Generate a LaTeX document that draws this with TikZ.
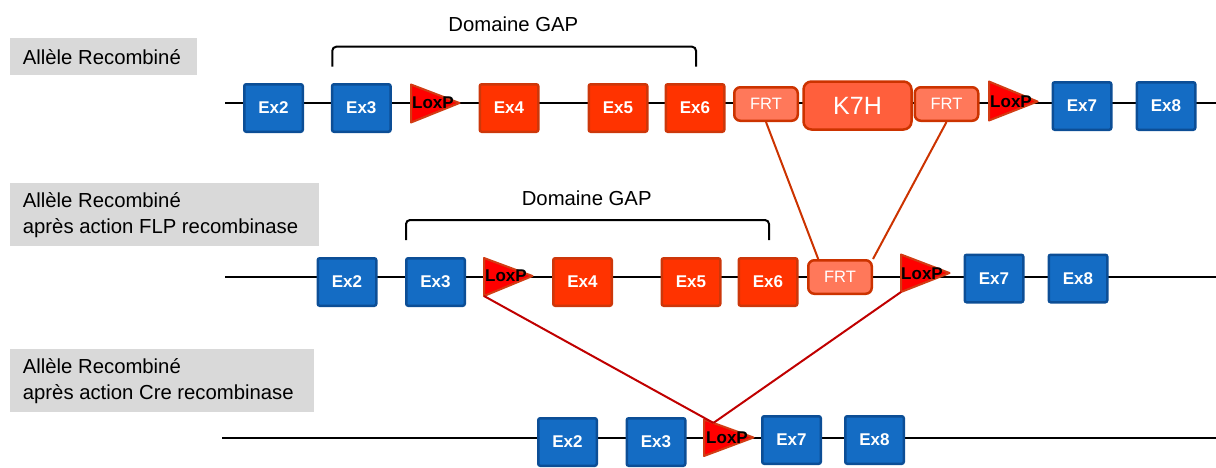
\documentclass[tikz,border=0pt]{standalone}
\usepackage{fontspec}
\setmainfont{Liberation Sans}
\usetikzlibrary{calc}
\definecolor{exblue}{RGB}{20,108,196}
\definecolor{exblueb}{RGB}{12,78,150}
\definecolor{exred}{RGB}{255,51,0}
\definecolor{exredb}{RGB}{205,55,10}
\definecolor{frtfill}{RGB}{255,120,90}
\definecolor{orb}{RGB}{204,51,0}
\definecolor{kfill}{RGB}{255,95,60}
\definecolor{loxfill}{RGB}{255,0,0}
\definecolor{loxb}{RGB}{210,60,20}
\definecolor{lgray}{RGB}{217,217,217}
\definecolor{frtline}{RGB}{204,51,0}
\definecolor{loxline}{RGB}{192,0,0}
\tikzset{
  exonbase/.style={rectangle, rounded corners=2pt, line width=2.5pt, minimum width=58.5pt, minimum height=47.5pt, inner sep=0pt, text=white, font=\fontsize{17}{20}\selectfont\bfseries},
  bexon/.style={exonbase, fill=exblue, draw=exblueb},
  rexon/.style={exonbase, fill=exred, draw=exredb},
  frtbox/.style={rectangle, rounded corners=6pt, line width=2.5pt, minimum width=63.5pt, minimum height=33.5pt, inner sep=0pt, fill=frtfill, draw=orb, text=white, font=\fontsize{16.5}{19}\selectfont},
  kbox/.style={rectangle, rounded corners=8pt, line width=2.5pt, minimum width=108pt, minimum height=48pt, inner sep=0pt, fill=kfill, draw=orb, text=white, font=\fontsize{25}{28}\selectfont},
  loxtri/.style={fill=loxfill, draw=loxb, line width=2pt, line join=round},
  loxtext/.style={inner sep=0pt, text=black, font=\fontsize{17}{19}\selectfont\bfseries},
  dna/.style={line width=2.5pt, black},
  graybox/.style={rectangle, fill=lgray, inner sep=0pt, anchor=north west},
  lbltext/.style={inner sep=0pt, anchor=west, align=left, font=\fontsize{20.3}{26}\selectfont},
  gaptext/.style={inner sep=0pt, anchor=base, font=\fontsize{20.3}{24}\selectfont},
  bracket/.style={line width=2pt, black, rounded corners=4pt},
  frtconn/.style={line width=2pt, frtline},
  loxconn/.style={line width=2pt, loxline}
}
\begin{document}
\begin{tikzpicture}[x=1pt,y=-1pt]
\useasboundingbox (0,0) rectangle (1216,467);
% ---------- labels ----------
\node[graybox, minimum width=187pt, minimum height=37pt] (g1) at (10,38) {};
\node[lbltext] (t1) at ($(g1.west)+(12.7,0)$) {Allèle Recombiné};
\node[graybox, minimum width=309pt, minimum height=63pt] (g2) at (10,183) {};
\node[lbltext] (t2) at ($(g2.west)+(12.7,0)$) {Allèle Recombiné\\après action FLP recombinase};
\node[graybox, minimum width=304pt, minimum height=63pt] (g3) at (10,349) {};
\node[lbltext] (t3) at ($(g3.west)+(12.7,0)$) {Allèle Recombiné\\après action Cre recombinase};
% ---------- brackets ----------
\node[gaptext] (gap1) at (513.3,31.7) {Domaine GAP};
\draw[bracket] (332.3,66.7) -- (332.3,46.7) -- (696,46.7) -- (696,66.7);
\node[gaptext] (gap2) at (586.7,205) {Domaine GAP};
\draw[bracket] (406,240) -- (406,220) -- (769,220) -- (769,240);
% ---------- row 1 ----------
\coordinate (r1s) at (225,103);
\coordinate (r1e) at (1216,103);
\draw[dna] (r1s) -- (r1e);
\node[bexon] (a2) at (273.5,108) {Ex2};
\node[bexon] (a3) at (361.3,108) {Ex3};
\draw[loxtri] (411,84.5) coordinate (la1) -- (411,122.5) coordinate (la2) -- (459.5,103) coordinate (la3) -- cycle;
\node[loxtext] (lat) at (433,103) {LoxP};
\node[rexon] (a4) at (509,108) {Ex4};
\node[rexon] (a5) at (618,108) {Ex5};
\node[rexon] (a6) at (695,108) {Ex6};
\node[frtbox] (af1) at (766,104) {FRT};
\node[kbox] (ak) at (857.5,105.5) {K7H};
\node[frtbox] (af2) at (946.5,104) {FRT};
\draw[loxtri] (989,81.5) coordinate (lb1) -- (989,120.5) coordinate (lb2) -- (1037.5,101.5) coordinate (lb3) -- cycle;
\node[loxtext] (lbt) at (1011,101.5) {LoxP};
\node[bexon] (a7) at (1082,106) {Ex7};
\node[bexon] (a8) at (1166,106) {Ex8};
% ---------- row 2 ----------
\coordinate (r2s) at (225,277);
\coordinate (r2e) at (1216,277);
\draw[dna] (r2s) -- (r2e);
\node[bexon] (b2) at (347,282) {Ex2};
\node[bexon] (b3) at (435.5,282) {Ex3};
\draw[loxtri] (484,258) coordinate (lc1) -- (484,296) coordinate (lc2) -- (532.5,276) coordinate (lc3) -- cycle;
\node[loxtext] (lct) at (506,276) {LoxP};
\node[rexon] (b4) at (582.5,282) {Ex4};
\node[rexon] (b5) at (691,282) {Ex5};
\node[rexon] (b6) at (768,282) {Ex6};
\node[frtbox] (bf) at (840,277) {FRT};
\draw[loxtri] (901,254.5) coordinate (ld1) -- (901,292) coordinate (ld2) -- (949.5,273) coordinate (ld3) -- cycle;
\node[loxtext] (ldt) at (922,273.5) {LoxP};
\node[bexon] (b7) at (994,278.5) {Ex7};
\node[bexon] (b8) at (1078,278.5) {Ex8};
% ---------- row 3 ----------
\coordinate (r3s) at (222,438);
\coordinate (r3e) at (1216,438);
\draw[dna] (r3s) -- (r3e);
\node[bexon] (c2) at (567.5,442) {Ex2};
\node[bexon] (c3) at (656,442) {Ex3};
\draw[loxtri] (704,419.5) coordinate (le1) -- (704,456) coordinate (le2) -- (753.5,437.5) coordinate (le3) -- cycle;
\node[loxtext] (let) at (727,438) {LoxP};
\node[bexon] (c7) at (791.5,440) {Ex7};
\node[bexon] (c8) at (874.5,440) {Ex8};
% ---------- connectors ----------
\coordinate (bfl) at ($(bf.north west)!0.17!(bf.north east)$);
\draw[frtconn] (af1.south) -- (bfl);
\draw[frtconn] (af2.south) -- (bf.north east);
\coordinate (lemeet) at ($(le1)!0.19!(le3)$);
\draw[loxconn] (lc2) -- (lemeet);
\draw[loxconn] (ld2) -- (lemeet);
\end{tikzpicture}
\end{document}
